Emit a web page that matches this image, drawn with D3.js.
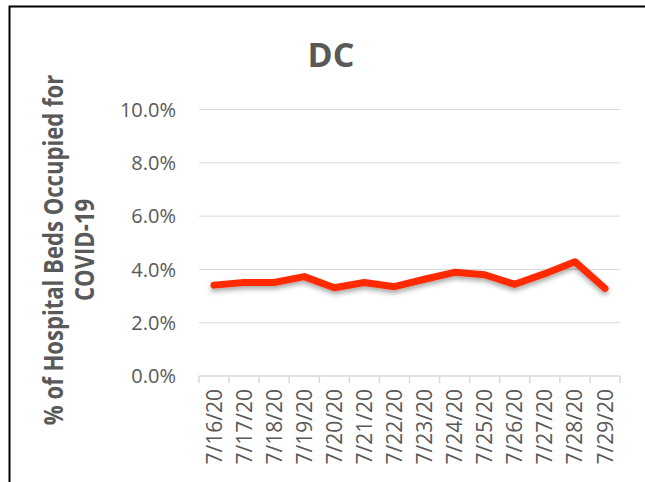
<!DOCTYPE html>
<html>
<head>
<meta charset="utf-8">
<script src="https://cdn.jsdelivr.net/npm/d3@7"></script>
<style>
  body { margin: 0; background: #fff; }
  text { font-family: "Open Sans", "Noto Sans", sans-serif; fill: #595959; }
</style>
</head>
<body>
<div id="chart"></div>
<script>
var dates = ['7/16/20', '7/17/20', '7/18/20', '7/19/20', '7/20/20', '7/21/20', '7/22/20',
             '7/23/20', '7/24/20', '7/25/20', '7/26/20', '7/27/20', '7/28/20', '7/29/20'];
var occupied = [0.0341, 0.0351, 0.0351, 0.0373, 0.0331, 0.0351, 0.0335,
                0.0363, 0.0389, 0.0380, 0.0344, 0.0384, 0.0429, 0.0329];
var yTicks = [0, 0.02, 0.04, 0.06, 0.08, 0.10];

var w = 645,
    h = 482,
    m = [109.5, 24, 106, 199]; // top right bottom left

var svg = d3.select('#chart').append('svg')
    .attr('width', w)
    .attr('height', h);

// frame
svg.append('rect')
    .attr('x', 9.5).attr('y', 6.5)
    .attr('width', 660).attr('height', 500)
    .attr('fill', 'none')
    .attr('stroke', '#000')
    .attr('stroke-width', 2);

var x = d3.scaleBand()
    .domain(dates)
    .range([m[3], w - m[1] - 1]);

var y = d3.scaleLinear()
    .domain([0, 0.10])
    .range([h - m[2], m[0]]);

// gridlines
svg.append('g')
  .selectAll('line')
  .data(yTicks.slice(1))
  .enter().append('line')
    .attr('x1', x.range()[0]).attr('x2', x.range()[1])
    .attr('y1', function(d) { return y(d); })
    .attr('y2', function(d) { return y(d); })
    .attr('stroke', '#d9d9d9')
    .attr('stroke-width', 1);

// y labels
svg.append('g')
  .selectAll('text')
  .data(yTicks)
  .enter().append('text')
    .attr('x', 176)
    .attr('y', function(d) { return y(d); })
    .attr('dy', '0.36em')
    .attr('text-anchor', 'end')
    .style('font-size', '20px')
    .text(d3.format('.1%'));

// x axis
var xAxis = svg.append('g')
    .attr('transform', 'translate(0,' + y(0) + ')');

xAxis.append('line')
    .attr('x1', x.range()[0]).attr('x2', x.range()[1])
    .attr('stroke', '#d9d9d9').attr('stroke-width', 1.5);

var bounds = dates.map(function(d) { return x(d); }).concat([x.range()[1]]);
xAxis.selectAll('.tick')
    .data(bounds)
  .enter().append('line')
    .attr('x1', function(d) { return d; })
    .attr('x2', function(d) { return d; })
    .attr('y1', 0).attr('y2', 7)
    .attr('stroke', '#d9d9d9').attr('stroke-width', 1.5);

xAxis.selectAll('.lbl')
    .data(dates)
  .enter().append('text')
    .attr('transform', function(d) {
      return 'translate(' + (x(d) + x.bandwidth() / 2) + ',13) rotate(-90)';
    })
    .attr('dy', '0.36em')
    .attr('text-anchor', 'end')
    .style('font-size', '21px')
    .text(function(d) { return d; });

// line with soft shadow
var defs = svg.append('defs');
var f = defs.append('filter').attr('id', 'shadow')
    .attr('x', '-10%').attr('y', '-50%').attr('width', '120%').attr('height', '200%');
f.append('feDropShadow')
    .attr('dx', 0).attr('dy', 3)
    .attr('stdDeviation', 2.5)
    .attr('flood-color', '#000')
    .attr('flood-opacity', 0.35);

var line = d3.line()
    .x(function(d, i) { return x(dates[i]) + x.bandwidth() / 2; })
    .y(function(d) { return y(d); });

svg.append('path')
    .datum(occupied)
    .attr('d', line)
    .attr('fill', 'none')
    .attr('stroke', '#ff2a00')
    .attr('stroke-width', 7)
    .attr('stroke-linejoin', 'round')
    .attr('stroke-linecap', 'round')
    .attr('filter', 'url(#shadow)');

// title
svg.append('text')
    .attr('x', 331).attr('y', 67)
    .attr('text-anchor', 'middle')
    .style('font-size', '34px')
    .style('font-weight', 'bold')
    .text('DC');

// y title (narrowed to mimic the condensed original face)
var yt = svg.append('text')
    .attr('transform', 'translate(63,250) rotate(-90) scale(0.85,1)')
    .attr('text-anchor', 'middle')
    .style('font-size', '26px')
    .style('font-weight', 'bold');
yt.append('tspan').attr('x', 0).attr('y', 0).text('% of Hospital Beds Occupied for');
yt.append('tspan').attr('x', 0).attr('y', 31).text('COVID-19');
</script>
</body>
</html>
